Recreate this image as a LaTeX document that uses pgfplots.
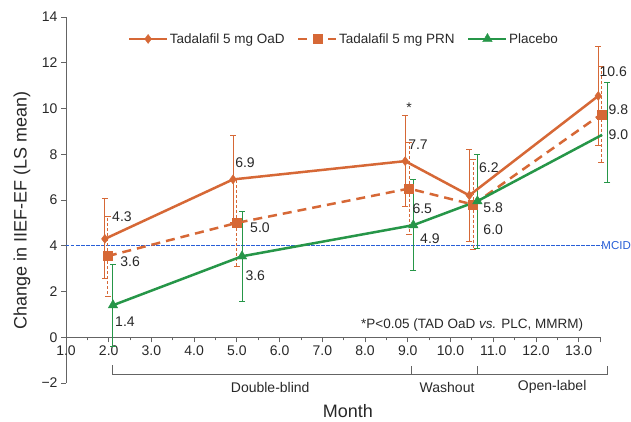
\documentclass[border=0pt]{standalone}
\usepackage{fontspec}
\setmainfont{Liberation Sans}
\usepackage{pgfplots}
\pgfplotsset{compat=1.18}
\definecolor{oad}{RGB}{214,104,54}
\definecolor{plc}{RGB}{38,150,72}
\definecolor{mcid}{RGB}{40,95,215}
\definecolor{txt}{RGB}{40,40,40}
\definecolor{axc}{RGB}{100,100,100}
\begin{document}
\begin{tikzpicture}
\begin{axis}[
  name=ax,
  scale only axis,
  width=534pt, height=366pt,
  xmin=1, xmax=13.5, ymin=-2, ymax=14,
  axis x line=middle, axis y line=left,
  x axis line style={-, draw=axc, line width=0.8pt},
  y axis line style={-, draw=axc, line width=0.8pt},
  hide obscured x ticks=false, hide obscured y ticks=false,
  clip=false,
  xtick={1,2,...,13},
  xticklabels={1.0,2.0,3.0,4.0,5.0,6.0,7.0,8.0,9.0,10.0,11.0,12.0,13.0},
  minor x tick num=1,
  extra x ticks={13.5}, extra x tick labels={},
  ytick={-2,0,2,...,14},
  yticklabels={−2,0,2,4,6,8,10,12,14},
  tick align=outside,
  major tick length=5pt, minor tick length=3pt,
  tick style={draw=axc, line width=0.8pt},
  ticklabel style={font=\fontsize{14}{16}\selectfont, text=txt},
  legend style={draw=none, fill=none, at={(axis cs:7.5,13.04)}, anchor=center,
    font=\fontsize{13.5}{15}\selectfont, text=txt,
    nodes={inner xsep=1.5pt},
    /tikz/every even column/.append style={column sep=11pt}},
  legend columns=3,
  legend cell align=left,
  legend image code/.code={\draw[mark repeat=2,mark phase=2,#1] plot coordinates {(0pt,0pt) (19pt,0pt) (38pt,0pt)};},
]
% MCID reference line
\addplot[color=mcid, draw=mcid, solid, line width=1.3pt, dash pattern=on 3.5pt off 1.5pt, mark=none, forget plot] coordinates {(1,4) (13.53,4)};
\node[anchor=west, inner sep=0pt, text=mcid, font=\fontsize{11.5}{13}\selectfont] at (axis cs:13.53,4) {MCID};

% error bars
\addplot[draw=none, mark=none, forget plot,
  error bars/.cd, y dir=both, y explicit,
  error bar style={draw=oad, line width=1pt, solid},
  error mark options={draw=oad, rotate=90, mark size=3pt, line width=1pt, solid}]
  table[x=x, y=y, y error=e] {
x y e
1.91 4.3 1.75
4.91 6.9 1.9
8.94 7.7 2.0
10.44 6.2 2.0
13.46 10.55 2.15
};
\addplot[draw=none, mark=none, forget plot,
  error bars/.cd, y dir=both, y explicit,
  error bar style={draw=oad, line width=1pt, dash pattern=on 3pt off 2pt},
  error mark options={draw=oad, rotate=90, mark size=3pt, line width=1pt, solid}]
  table[x=x, y=y, y error=e] {
x y e
1.98 3.55 1.75
5.0 5.0 1.9
9.03 6.5 2.0
10.53 5.8 1.95
13.53 9.75 2.1
};
\addplot[draw=none, mark=none, forget plot,
  error bars/.cd, y dir=both, y explicit,
  error bar style={draw=plc, line width=1pt, solid},
  error mark options={draw=plc, rotate=90, mark size=3pt, line width=1pt, solid}]
  table[x=x, y=y, y error=e] {
x y e
2.1 1.4 1.8
5.12 3.54 1.97
9.13 4.9 2.0
10.63 5.95 2.05
13.67 8.95 2.2
};

% main series
\addplot[oad, line width=2.5pt, mark=diamond*, mark size=4.5pt,
  mark options={solid, fill=oad, line width=0.4pt}]
  coordinates {(1.91,4.3) (4.91,6.9) (8.94,7.7) (10.44,6.2) (13.46,10.55)};
\addlegendentry{Tadalafil 5 mg OaD}
\addplot[oad, line width=2.5pt, dash pattern=on 9pt off 6pt, mark=square*, mark size=4.5pt,
  mark options={solid, fill=oad, line width=0.4pt}]
  coordinates {(1.98,3.55) (5.0,5.0) (9.03,6.5) (10.53,5.8) (13.53,9.75)};
\addlegendentry{Tadalafil 5 mg PRN}
\addplot[plc, line width=2.5pt, mark=triangle*, mark size=5.5pt, mark indices={1,2,3,4},
  mark options={solid, fill=plc, line width=0.4pt},
  legend image post style={mark indices={2}}]
  coordinates {(2.1,1.4) (5.12,3.54) (9.13,4.9) (10.63,5.95) (13.55,8.85)};
\addlegendentry{Placebo}

% value labels
\begin{scope}[every node/.style={font=\fontsize{14}{16}\selectfont, text=txt, inner sep=0pt}]
\node at (axis cs:2.31,5.29) {4.3};
\node at (axis cs:2.50,3.30) {3.6};
\node at (axis cs:2.38,0.70) {1.4};
\node at (axis cs:5.19,7.65) {6.9};
\node at (axis cs:5.54,4.77) {5.0};
\node at (axis cs:5.43,2.70) {3.6};
\node at (axis cs:9.24,8.44) {7.7};
\node at (axis cs:9.34,5.60) {6.5};
\node at (axis cs:9.52,4.33) {4.9};
\node at (axis cs:10.90,7.43) {6.2};
\node at (axis cs:11.00,5.68) {5.8};
\node at (axis cs:11.00,4.72) {6.0};
\node at (axis cs:13.81,11.60) {10.6};
\node at (axis cs:13.93,9.97) {9.8};
\node at (axis cs:13.93,8.84) {9.0};
\node at (axis cs:9.03,10.05) {*};
\node[anchor=east] at (axis cs:13.11,0.52) {\fontsize{13.5}{15}\selectfont *P<0.05 (TAD OaD \textit{vs.} PLC, MMRM)};
\end{scope}

% phase brackets
\draw[axc, line width=0.8pt] (axis cs:2.08,-1.22) -- (axis cs:2.08,-1.62) -- (axis cs:13.67,-1.62) -- (axis cs:13.67,-1.24);
\draw[axc, line width=0.8pt] (axis cs:9.08,-1.62) -- (axis cs:9.08,-1.24);
\draw[axc, line width=0.8pt] (axis cs:10.63,-1.62) -- (axis cs:10.63,-1.24);
\begin{scope}[every node/.style={font=\fontsize{14}{16}\selectfont, text=txt, inner sep=0pt}]
\node at (axis cs:5.78,-2.19) {Double-blind};
\node at (axis cs:9.92,-2.19) {Washout};
\node at (axis cs:12.38,-2.19) {Open-label};
\end{scope}

% axis titles
\node[font=\fontsize{18}{20}\selectfont, text=txt] at (axis cs:7.6,-3.24) {Month};
\node[rotate=90, font=\fontsize{18}{20}\selectfont, text=txt] at (axis cs:-0.03,5.56) {Change in IIEF-EF (LS mean)};
\end{axis}
\pgfresetboundingbox
\path (ax.south west) ++(-66pt,-38pt) rectangle ++(631pt,421pt);
\end{tikzpicture}
\end{document}
